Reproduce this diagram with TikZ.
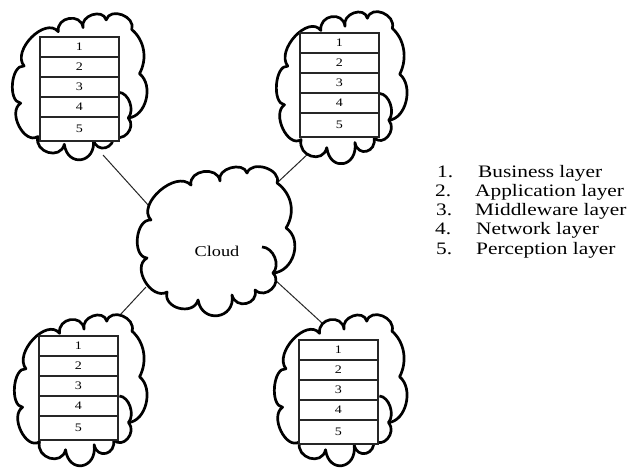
\documentclass[tikz,border=0pt]{standalone}
\usepackage{fontspec}
\setmainfont{Liberation Serif}[FakeStretch=1.22]
\usetikzlibrary{positioning}

\tikzset{
  cloudline/.style={line width=2.7pt, line join=round, draw=black},
  link/.style={line width=1pt, draw=black!85},
  row/.style={draw=black!85, line width=1.4pt, fill=white, minimum width=79pt,
    minimum height=20pt, inner sep=0pt, outer sep=0pt,
    font=\fontsize{11.5}{12}\selectfont},
  lastrow/.style={row, minimum height=24pt},
  legend/.style={font=\fontsize{17.5}{18}\selectfont, inner sep=0pt, anchor=base west},
}

% cloud outline drawn in a 100 x 100 box placed at (#1,#2) with size #3 x #4
\newcommand\cloudshape[4]{%
  \begin{scope}[shift={(#1,#2)}, xscale=#3/100, yscale=#4/100]
    \draw[cloudline, fill=white]
      (8.2,36.2)
      to[bend left=90, looseness=1.05] (33.5,13.2)
      to[bend left=90, looseness=1.4]  (51.9,10.5)
      to[bend left=90, looseness=1.2]  (69.0,5.3)
      to[bend left=90, looseness=1.2]  (88.0,11.8)
      to[bend left=42, looseness=1.0]  (93.7,41.4)
      to[bend left=70, looseness=1.1]  (85.4,71.1)
      to[bend left=90, looseness=1.5]  (74.1,82.2)
      to[bend left=90, looseness=1.7]  (59.5,85.5)
      to[bend left=90, looseness=1.9]  (38.0,88.8)
      to[bend left=90, looseness=1.4]  (18.4,83.6)
      to[bend left=90, looseness=1.15] (5.7,61.2)
      to[bend left=90, looseness=1.0]  (8.2,36.2) -- cycle;
    \draw[cloudline] (78.5,53.9) to[bend left=65] (85.4,71.1);
  \end{scope}}

% five stacked layer boxes, top-left corner at (#2,#3), names #1-1 ... #1-5
\newcommand\layerstack[3]{%
  \node[row, anchor=north west] (#1-1) at (#2,#3) {1};
  \node[row, below=0pt of #1-1] (#1-2) {2};
  \node[row, below=0pt of #1-2] (#1-3) {3};
  \node[row, below=0pt of #1-3] (#1-4) {4};
  \node[lastrow, below=0pt of #1-4] (#1-5) {5};}

\begin{document}
\begin{tikzpicture}[x=1pt, y=-1pt]
  \useasboundingbox (0,0) rectangle (644,468);
  \fill[white] (0,0) rectangle (644,468);

  % connector end points on the cloud rims
  \coordinate (tlEdge) at (103,155);
  \coordinate (trEdge) at (310,152);
  \coordinate (blEdge) at (120,315);
  \coordinate (brEdge) at (322,323);
  \coordinate (cNW) at (149,206);
  \coordinate (cNE) at (278,182);
  \coordinate (cSW) at (146,287);
  \coordinate (cSE) at (274,279);

  \draw[link] (tlEdge) -- (cNW);
  \draw[link] (trEdge) -- (cNE);
  \draw[link] (blEdge) -- (cSW);
  \draw[link] (brEdge) -- (cSE);

  % clouds
  \cloudshape{13}{12}{135}{149}
  \cloudshape{277}{10}{131}{155}
  \cloudshape{15}{313}{133}{154}
  \cloudshape{275}{313}{133}{154}
  \cloudshape{138}{165}{158}{152}

  \node[font=\fontsize{15}{15}\selectfont, inner sep=0pt] (cloud) at (217,251) {Cloud};

  % layer stacks
  \layerstack{tl}{40}{37}
  \layerstack{tr}{300}{33}
  \layerstack{bl}{39}{336}
  \layerstack{br}{299}{340}

  % legend
  \node[legend] (n1) at (437,177) {1.};
  \node[legend] (l1) at (478,177) {Business layer};
  \node[legend] (n2) at (435,196.5) {2.};
  \node[legend] (l2) at (475,196.5) {Application layer};
  \node[legend] (n3) at (436,215.5) {3.};
  \node[legend] (l3) at (475,215.5) {Middleware layer};
  \node[legend] (n4) at (435,234.5) {4.};
  \node[legend] (l4) at (476,234.5) {Network layer};
  \node[legend] (n5) at (436,254) {5.};
  \node[legend] (l5) at (476,254) {Perception layer};
\end{tikzpicture}
\end{document}
